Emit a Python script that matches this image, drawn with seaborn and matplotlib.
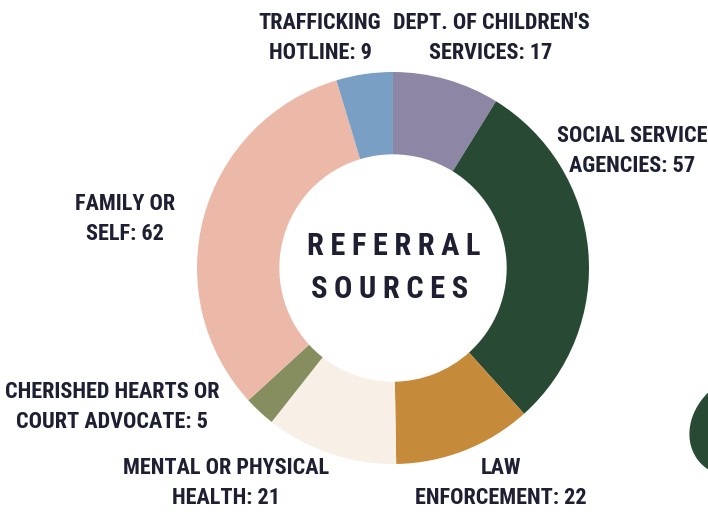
import matplotlib
matplotlib.use('Agg')
import matplotlib.pyplot as plt
import seaborn as sns
from matplotlib.patches import Ellipse

# ---- data (clockwise from top) ----
sources = ["DEPT. OF CHILDREN'S\nSERVICES", "SOCIAL SERVICE\nAGENCIES", "LAW\nENFORCEMENT",
           "MENTAL OR PHYSICAL\nHEALTH", "CHERISHED HEARTS OR\nCOURT ADVOCATE", "FAMILY OR\nSELF",
           "TRAFFICKING\nHOTLINE"]
counts = [17, 57, 22, 21, 5, 62, 9]
colors = ['#8d87a5', '#284a35', '#c68a3b', '#f8efe6', '#868e5f', '#ecb8a8', '#79a0c4']

# label anchor points in pixels (x, y from top)
label_pos = [(491, 38), (632, 151), (501, 483), (226, 483), (112, 407), (125, 219), (320, 38)]

sns.set_theme(style='white')
plt.rcParams['font.family'] = ['Roboto Condensed', 'DejaVu Sans']
TXT = '#1e1f33'

W, H = 708, 512
fig = plt.figure(figsize=(W / 100, H / 100), dpi=100)
fig.patch.set_facecolor('white')

# donut
cx, cy, r = 393, 268, 196
ax = fig.add_axes([(cx - r) / W, (H - cy - r) / H, 2 * r / W, 2 * r / H])
ax.pie(counts, colors=colors, startangle=90, counterclock=False, radius=1,
       wedgeprops=dict(width=0.42, edgecolor='none'))
ax.set_xlim(-1, 1)
ax.set_ylim(-1, 1)
ax.set_aspect('equal')
ax.axis('off')

# overlay in pixel coords for text and decoration
ov = fig.add_axes([0, 0, 1, 1])
ov.set_xlim(0, W)
ov.set_ylim(H, 0)
ov.axis('off')
ov.patch.set_alpha(0)

ov.add_patch(Ellipse((745, 425), 116, 96, angle=-35, color='#284a35'))

for name, n, (x, y) in zip(sources, counts, label_pos):
    ov.text(x, y, f"{name}: {n}", ha='center', va='center', fontsize=16,
            fontweight='bold', color=TXT, linespacing=1.45)

gap = '\u200a\u200a'
ov.text(cx + 1, 246, gap.join("REFERRAL"), ha='center', va='center', fontsize=22,
        fontweight='bold', color=TXT)
ov.text(cx - 3, 289, gap.join("SOURCES"), ha='center', va='center', fontsize=22,
        fontweight='bold', color=TXT)

fig.savefig('out.png', dpi=100)
